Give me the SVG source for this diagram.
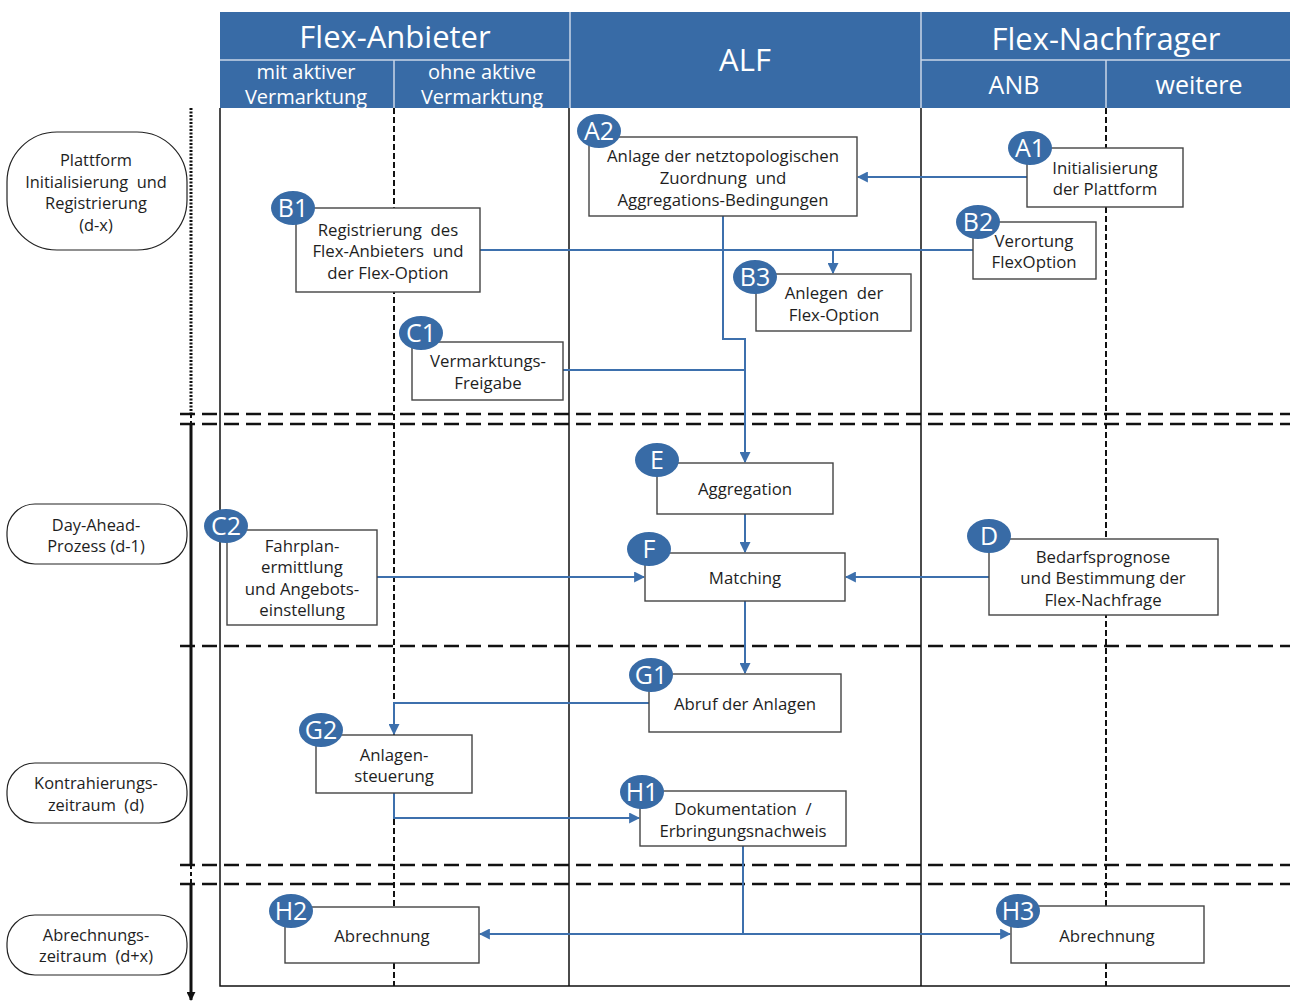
<svg xmlns="http://www.w3.org/2000/svg" width="1290" height="1006" viewBox="0 0 1290 1006">
  <defs>
    <style>
      text { font-family: "Open Sans", "Noto Sans", "DejaVu Sans", sans-serif; }
      .hd { fill: #386BA6; }
      .hsep { stroke: #C9D6E8; stroke-width: 1.5; fill: none; }
      .ht { fill: #FFFFFF; font-size: 31px; text-anchor: middle; }
      .hs { fill: #FFFFFF; font-size: 20px; text-anchor: middle; }
      .hb { fill: #FFFFFF; font-size: 25px; text-anchor: middle; }
      .lane { stroke: #111; stroke-width: 1.5; fill: none; }
      .sub { stroke: #111; stroke-width: 2; stroke-dasharray: 6 3; fill: none; }
      .phase-sep { stroke: #111; stroke-width: 2.5; stroke-dasharray: 15 7; fill: none; }
      .phase { fill: #FFFFFF; stroke: #222; stroke-width: 1.2; }
      .pt { fill: #1E1E1E; font-size: 16.4px; text-anchor: middle; }
      .box { fill: #FFFFFF; stroke: #444; stroke-width: 1.4; }
      .nt { fill: #1E1E1E; font-size: 16.8px; text-anchor: middle; }
      .badge { fill: #386BA6; }
      .bt { fill: #FFFFFF; font-size: 25px; text-anchor: middle; }
      .edge { stroke: #3D70AD; stroke-width: 2; fill: none; }
      .arr { marker-end: url(#ah); }
    </style>
    <marker id="ah" viewBox="0 0 10 10" refX="9" refY="5" markerWidth="5.5" markerHeight="5.5" orient="auto" markerUnits="strokeWidth">
      <path d="M0,0 L10,5 L0,10 z" fill="#3D70AD"/>
    </marker>
    <marker id="axis" viewBox="0 0 10 10" refX="9" refY="5" markerWidth="3" markerHeight="3" orient="auto" markerUnits="strokeWidth">
      <path d="M0,0 L10,5 L0,10 z" fill="#111"/>
    </marker>
  </defs>

  <!-- header -->
  <g id="header">
    <rect class="hd" x="220" y="12" width="1070" height="96"/>
    <path class="hsep" d="M570,12 V108 M921,12 V108 M220,60 H570 M921,60 H1290 M394,60 V108 M1106,60 V108"/>
    <text class="ht" x="395" y="48">Flex-Anbieter</text>
    <text class="hs" x="306" y="79">mit aktiver</text>
    <text class="hs" x="306" y="104">Vermarktung</text>
    <text class="hs" x="482" y="79">ohne aktive</text>
    <text class="hs" x="482" y="104">Vermarktung</text>
    <text class="ht" x="745" y="71">ALF</text>
    <text class="ht" x="1106" y="50">Flex-Nachfrager</text>
    <text class="hb" x="1014" y="94">ANB</text>
    <text class="hb" x="1199" y="94">weitere</text>
  </g>

  <!-- lanes and phase separators -->
  <g id="lanes">
    <path class="lane" d="M220,108 V986 H1290 M569,108 V986 M921,108 V986"/>
    <path class="sub" d="M394,108 V986 M1106,108 V986"/>
    <path class="phase-sep" d="M180,414 H1290 M180,424 H1290 M180,646 H1290 M180,865 H1290 M180,884 H1290"/>
  </g>

  <!-- time axis -->
  <g id="time-axis">
    <path d="M191,108 V414" stroke="#111" stroke-width="3" stroke-dasharray="2 1.5" fill="none"/>
    <path d="M191,414 V424 M191,865 V884" stroke="#111" stroke-width="2" stroke-dasharray="4 3" fill="none"/>
    <path d="M191,424 V865" stroke="#111" stroke-width="3" fill="none"/>
    <path d="M191,884 V1000" stroke="#111" stroke-width="3" fill="none" marker-end="url(#axis)"/>
  </g>

  <!-- phases -->
  <g id="phase-d-x">
    <rect class="phase" x="7" y="132" width="180" height="118" rx="50" ry="50"/>
    <text class="pt" x="96" y="166">Plattform</text>
    <text class="pt" x="96" y="188" xml:space="preserve">Initialisierung  und</text>
    <text class="pt" x="96" y="209">Registrierung</text>
    <text class="pt" x="96" y="231">(d-x)</text>
  </g>
  <g id="phase-d-1">
    <rect class="phase" x="7" y="504" width="180" height="60" rx="28" ry="28"/>
    <text class="pt" x="96" y="531">Day-Ahead-</text>
    <text class="pt" x="96" y="552">Prozess (d-1)</text>
  </g>
  <g id="phase-d">
    <rect class="phase" x="7" y="763" width="180" height="60" rx="28" ry="28"/>
    <text class="pt" x="96" y="789">Kontrahierungs-</text>
    <text class="pt" x="96" y="811" xml:space="preserve">zeitraum  (d)</text>
  </g>
  <g id="phase-d+x">
    <rect class="phase" x="7" y="915" width="180" height="60" rx="28" ry="28"/>
    <text class="pt" x="96" y="941">Abrechnungs-</text>
    <text class="pt" x="96" y="962" xml:space="preserve">zeitraum  (d+x)</text>
  </g>

  <!-- connectors -->
  <g id="connectors">
    <path class="edge arr" d="M1027,177 H858"/>
    <path class="edge" d="M480,250 H973"/>
    <path class="edge arr" d="M833,250 V273"/>
    <path class="edge arr" d="M723,216 V339 H745 V462"/>
    <path class="edge" d="M563,370 H745"/>
    <path class="edge arr" d="M745,514 V552"/>
    <path class="edge arr" d="M377,577 H644"/>
    <path class="edge arr" d="M989,577 H846"/>
    <path class="edge arr" d="M745,601 V673"/>
    <path class="edge arr" d="M649,703 H394 V734"/>
    <path class="edge arr" d="M394,793 V818 H639"/>
    <path class="edge" d="M743,846 V934"/>
    <path class="edge arr" d="M743,934 H480"/>
    <path class="edge arr" d="M743,934 H1010"/>
  </g>

  <!-- process nodes -->
  <g id="node-A2">
    <rect class="box" x="589" y="137" width="268" height="79"/>
    <text class="nt" x="723" y="162">Anlage der netztopologischen</text>
    <text class="nt" x="723" y="184" xml:space="preserve">Zuordnung  und</text>
    <text class="nt" x="723" y="206">Aggregations-Bedingungen</text>
    <ellipse class="badge" cx="599" cy="131" rx="22" ry="17"/>
    <text class="bt" x="599" y="140">A2</text>
  </g>
  <g id="node-A1">
    <rect class="box" x="1027" y="148" width="156" height="59"/>
    <text class="nt" x="1105" y="174">Initialisierung</text>
    <text class="nt" x="1105" y="195">der Plattform</text>
    <ellipse class="badge" cx="1030" cy="148" rx="22" ry="17"/>
    <text class="bt" x="1030" y="157">A1</text>
  </g>
  <g id="node-B1">
    <rect class="box" x="296" y="208" width="184" height="84"/>
    <text class="nt" x="388" y="236" xml:space="preserve">Registrierung  des</text>
    <text class="nt" x="388" y="257" xml:space="preserve">Flex-Anbieters  und</text>
    <text class="nt" x="388" y="279">der Flex-Option</text>
    <ellipse class="badge" cx="293" cy="208" rx="22" ry="17"/>
    <text class="bt" x="293" y="217">B1</text>
  </g>
  <g id="node-B2">
    <rect class="box" x="973" y="222" width="123" height="57"/>
    <text class="nt" x="1034" y="247">Verortung</text>
    <text class="nt" x="1034" y="268">FlexOption</text>
    <ellipse class="badge" cx="978" cy="222" rx="22" ry="17"/>
    <text class="bt" x="978" y="231">B2</text>
  </g>
  <g id="node-B3">
    <rect class="box" x="756" y="274" width="155" height="57"/>
    <text class="nt" x="834" y="299" xml:space="preserve">Anlegen  der</text>
    <text class="nt" x="834" y="321">Flex-Option</text>
    <ellipse class="badge" cx="755" cy="277" rx="22" ry="17"/>
    <text class="bt" x="755" y="286">B3</text>
  </g>
  <g id="node-C1">
    <rect class="box" x="412" y="342" width="151" height="58"/>
    <text class="nt" x="488" y="367">Vermarktungs-</text>
    <text class="nt" x="488" y="389">Freigabe</text>
    <ellipse class="badge" cx="421" cy="333" rx="22" ry="17"/>
    <text class="bt" x="421" y="342">C1</text>
  </g>
  <g id="node-E">
    <rect class="box" x="657" y="463" width="176" height="51"/>
    <text class="nt" x="745" y="495">Aggregation</text>
    <ellipse class="badge" cx="657" cy="460" rx="22" ry="17"/>
    <text class="bt" x="657" y="469">E</text>
  </g>
  <g id="node-C2">
    <rect class="box" x="227" y="530" width="150" height="95"/>
    <text class="nt" x="302" y="552">Fahrplan-</text>
    <text class="nt" x="302" y="573">ermittlung</text>
    <text class="nt" x="302" y="595">und Angebots-</text>
    <text class="nt" x="302" y="616">einstellung</text>
    <ellipse class="badge" cx="226" cy="526" rx="22" ry="17"/>
    <text class="bt" x="226" y="535">C2</text>
  </g>
  <g id="node-F">
    <rect class="box" x="645" y="553" width="200" height="48"/>
    <text class="nt" x="745" y="584">Matching</text>
    <ellipse class="badge" cx="649" cy="549" rx="22" ry="17"/>
    <text class="bt" x="649" y="558">F</text>
  </g>
  <g id="node-D">
    <rect class="box" x="989" y="539" width="229" height="76"/>
    <text class="nt" x="1103" y="563">Bedarfsprognose</text>
    <text class="nt" x="1103" y="584">und Bestimmung der</text>
    <text class="nt" x="1103" y="606">Flex-Nachfrage</text>
    <ellipse class="badge" cx="989" cy="536" rx="22" ry="17"/>
    <text class="bt" x="989" y="545">D</text>
  </g>
  <g id="node-G1">
    <rect class="box" x="649" y="674" width="192" height="58"/>
    <text class="nt" x="745" y="710">Abruf der Anlagen</text>
    <ellipse class="badge" cx="651" cy="675" rx="22" ry="17"/>
    <text class="bt" x="651" y="684">G1</text>
  </g>
  <g id="node-G2">
    <rect class="box" x="316" y="735" width="156" height="58"/>
    <text class="nt" x="394" y="761">Anlagen-</text>
    <text class="nt" x="394" y="782">steuerung</text>
    <ellipse class="badge" cx="321" cy="730" rx="22" ry="17"/>
    <text class="bt" x="321" y="739">G2</text>
  </g>
  <g id="node-H1">
    <rect class="box" x="640" y="791" width="206" height="55"/>
    <text class="nt" x="743" y="815" xml:space="preserve">Dokumentation  /</text>
    <text class="nt" x="743" y="837">Erbringungsnachweis</text>
    <ellipse class="badge" cx="642" cy="792" rx="22" ry="17"/>
    <text class="bt" x="642" y="801">H1</text>
  </g>
  <g id="node-H2">
    <rect class="box" x="285" y="907" width="194" height="56"/>
    <text class="nt" x="382" y="942">Abrechnung</text>
    <ellipse class="badge" cx="291" cy="911" rx="22" ry="17"/>
    <text class="bt" x="291" y="920">H2</text>
  </g>
  <g id="node-H3">
    <rect class="box" x="1011" y="906" width="193" height="57"/>
    <text class="nt" x="1107" y="942">Abrechnung</text>
    <ellipse class="badge" cx="1018" cy="911" rx="22" ry="17"/>
    <text class="bt" x="1018" y="920">H3</text>
  </g>
</svg>
